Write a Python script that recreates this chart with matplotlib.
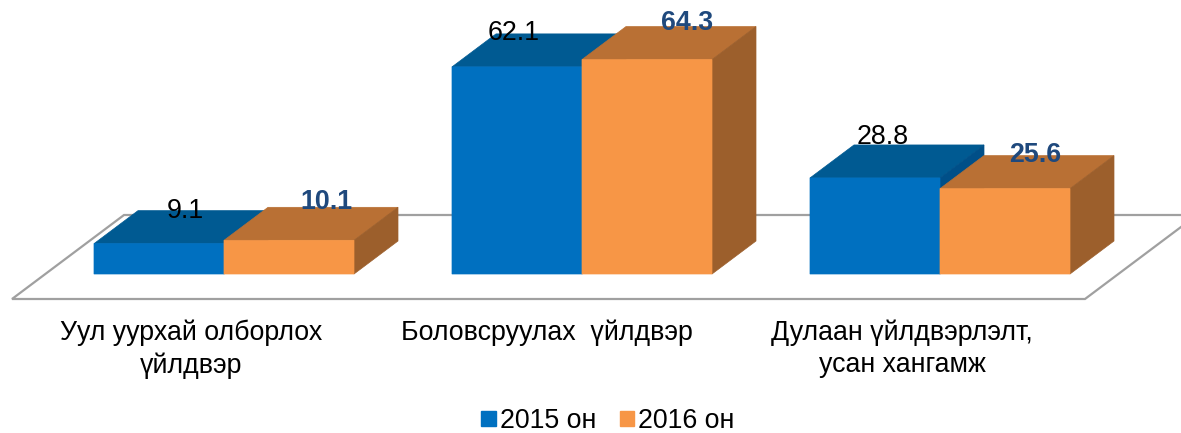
import matplotlib
matplotlib.use('Agg')
import matplotlib.pyplot as plt
from matplotlib.patches import Patch, Polygon

plt.rcParams['font.family'] = ['Liberation Sans', 'DejaVu Sans']

categories = ['Уул уурхай олборлох\nүйлдвэр', 'Боловсруулах  үйлдвэр',
              'Дулаан үйлдвэрлэлт,\nусан хангамж']
series_names = ['2015 он', '2016 он']
values_2015 = [9.1, 62.1, 28.8]
values_2016 = [10.1, 64.3, 25.6]

# layout, in image pixels
W, H = 1181, 433
BASE = 274
PX_PER_UNIT = 3.335
BAR_W = 130
DX, DY = 44, 33
group_left = [94, 452, 810]
cat_x = [191, 547, 902]
offsets_2015 = [(26, 33), (-3, 34), (8, 41)]
offsets_2016 = [(37, 38), (40, 37), (30, 34)]

colors = {'2015': ('#0070C0', '#005A92', '#004F88'),
          '2016': ('#F79646', '#B97034', '#9C5F2C')}
BLUE_TEXT = '#1F497D'
FLOOR = '#A0A0A0'
FONT_SIZE = 19.3


def py(pixel_y):
    # image pixel row to value units
    return (BASE - pixel_y) / PX_PER_UNIT


fig = plt.figure(figsize=(W / 100, H / 100), dpi=100)
ax = fig.add_axes([0, 0, 1, 1])
ax.set_xlim(0, W)
ax.set_ylim(py(H), py(0))
ax.set_axis_off()

# floor of the 3d chart
ax.plot([1181, 124, 12, 1085, 1197], [py(215), py(215), py(299), py(299), py(215)],
        color=FLOOR, lw=1.6, solid_joinstyle='miter', zorder=1)


def bar3d(x, value, cols, z):
    front, top, side = cols
    dy = DY / PX_PER_UNIT
    rects = ax.bar(x, value, BAR_W, align='edge', color=front, ec=front, lw=0.5, zorder=z + 0.2)
    # no pixel snapping, otherwise a seam opens between front and top
    rects[0].set_snap(False)
    ax.add_patch(Polygon([(x, value), (x + BAR_W, value), (x + BAR_W + DX, value + dy), (x + DX, value + dy)],
                         closed=True, fc=top, ec=top, lw=0.5, zorder=z))
    ax.add_patch(Polygon([(x + BAR_W, 0), (x + BAR_W + DX, dy), (x + BAR_W + DX, value + dy), (x + BAR_W, value)],
                         closed=True, fc=side, ec=side, lw=0.5, zorder=z + 0.1))


for i, left in enumerate(group_left):
    bar3d(left, values_2015[i], colors['2015'], 2 + i)
    bar3d(left + BAR_W, values_2016[i], colors['2016'], 2.5 + i)

for i, left in enumerate(group_left):
    ax.annotate(f'{values_2015[i]}', (left + BAR_W / 2, values_2015[i]), xytext=offsets_2015[i],
                textcoords='offset pixels', ha='center', va='center', fontsize=FONT_SIZE,
                color='black', zorder=10)
    ax.annotate(f'{values_2016[i]}', (left + BAR_W * 1.5, values_2016[i]), xytext=offsets_2016[i],
                textcoords='offset pixels', ha='center', va='center', fontsize=FONT_SIZE,
                fontweight='bold', color=BLUE_TEXT, zorder=10)
    ax.text(cat_x[i], py(320), categories[i], ha='center', va='top', fontsize=FONT_SIZE,
            linespacing=1.28, color='black')

handles = [Patch(color=colors['2015'][0], label=series_names[0]),
           Patch(color=colors['2016'][0], label=series_names[1])]
ax.legend(handles=handles, ncols=2, loc='center', bbox_to_anchor=(608 / W, 1 - 421 / H),
          frameon=False, fontsize=FONT_SIZE, handlelength=0.53, handleheight=0.53,
          handletextpad=0.15, columnspacing=0.9, borderpad=0, borderaxespad=0)

fig.savefig('out.png', dpi=100)
